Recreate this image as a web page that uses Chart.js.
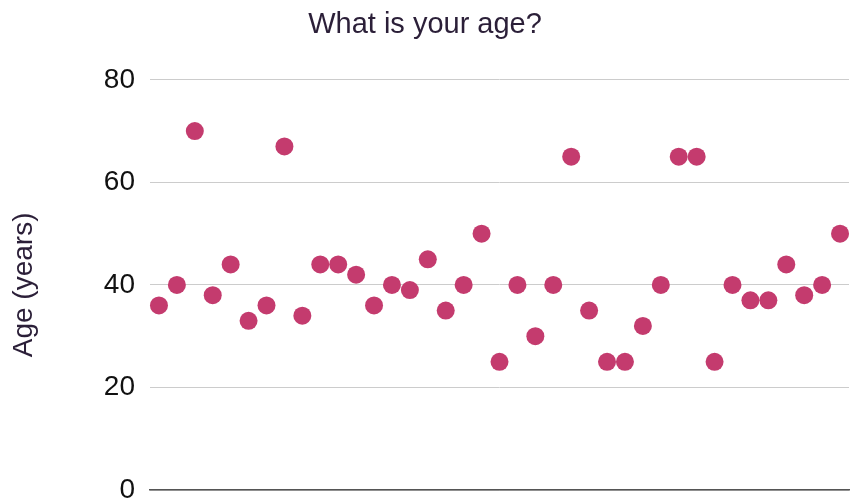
<!DOCTYPE html>
<html>
<head>
<meta charset="utf-8">
<script src="https://cdn.jsdelivr.net/npm/chart.js@4"></script>
<style>
  html, body { margin: 0; padding: 0; background: #fff; }
  #wrap { width: 858px; height: 502px; }
</style>
</head>
<body>
<div id="wrap"><canvas id="ageChart"></canvas></div>
<script>
// Respondent ages, one point per answer
const respondents = ['1','2','3','4','5','6','7','8','9','10','11','12','13','14','15','16','17','18','19','20',
    '21','22','23','24','25','26','27','28','29','30','31','32','33','34','35','36','37','38','39'];
const ages = [36, 40, 70, 38, 44, 33, 36, 67, 34, 44, 44, 42, 36, 40, 39, 45, 35, 40, 50, 25,
    40, 30, 40, 65, 35, 25, 25, 32, 40, 65, 65, 25, 40, 37, 37, 44, 38, 40, 50];
const yTicks = [0, 20, 40, 60, 80];

const fontFamily = '"Liberation Sans", Arial, sans-serif';

document.addEventListener('DOMContentLoaded', function() {
    const ctx = document.getElementById('ageChart').getContext('2d');

    new Chart(ctx, {
        type: 'line',
        data: {
            labels: respondents,
            datasets: [{
                data: ages,
                showLine: false,
                pointRadius: 9,
                pointHoverRadius: 9,
                pointBackgroundColor: '#c43b6e',
                pointBorderColor: '#c43b6e',
                pointBorderWidth: 0
            }]
        },
        options: {
            responsive: true,
            maintainAspectRatio: false,
            animation: false,
            layout: { padding: { left: 0, right: 8, top: 0, bottom: 0 } },
            plugins: {
                legend: { display: false },
                tooltip: { enabled: false },
                title: {
                    display: true,
                    text: 'What is your age?',
                    color: '#2b1f38',
                    font: { family: fontFamily, size: 29, weight: 'normal', lineHeight: 1.2 },
                    padding: { top: 8, bottom: 37 }
                }
            },
            scales: {
                x: {
                    type: 'category',
                    offset: true,
                    ticks: { display: false },
                    grid: { display: false, drawTicks: false },
                    border: { display: true, color: '#555', width: 1.5 },
                    afterFit: axis => { axis.height = 0; }
                },
                y: {
                    min: 0,
                    max: 80,
                    afterBuildTicks: axis => { axis.ticks = yTicks.map(v => ({ value: v })); },
                    afterFit: axis => { axis.width = 150; },
                    ticks: {
                        color: '#111',
                        padding: 12,
                        // zero line height keeps the "0" label from pushing the plot up
                        font: { family: fontFamily, size: 28, lineHeight: 0 }
                    },
                    grid: { color: '#cccccc', lineWidth: 1, drawTicks: true, tickLength: 3, tickColor: 'rgba(0,0,0,0)' },
                    border: { display: false },
                    title: {
                        display: true,
                        text: 'Age (years)',
                        color: '#2b1f38',
                        font: { family: fontFamily, size: 28 },
                        padding: { top: 7, bottom: 0 }
                    }
                }
            }
        }
    });
});
</script>
</body>
</html>
